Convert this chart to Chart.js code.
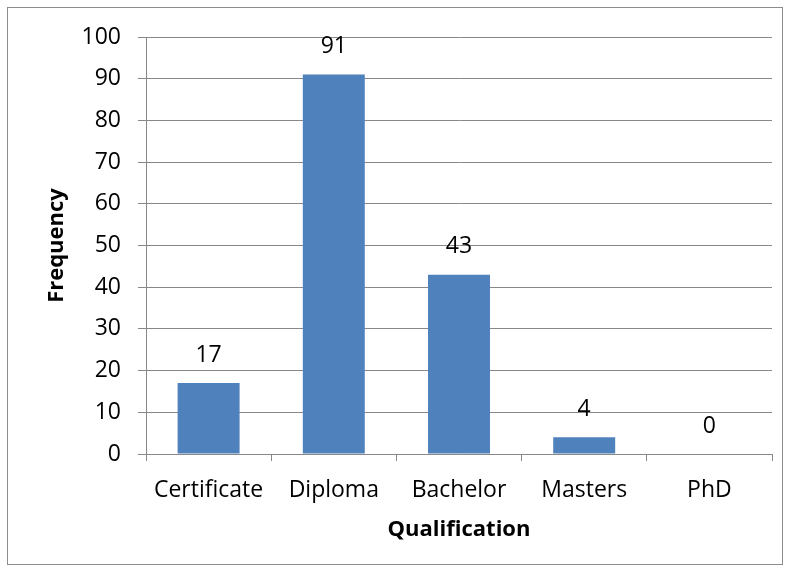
<!DOCTYPE html>
<html><head><meta charset="utf-8">
<script src="https://cdn.jsdelivr.net/npm/chart.js@4/dist/chart.umd.min.js"></script>
<style>
html,body{margin:0;padding:0;background:#fff;}
#wrap{position:relative;width:791px;height:573px;}
#frame{position:absolute;left:7px;top:7px;width:776px;height:558px;border:1px solid #8c8c8c;box-sizing:border-box;pointer-events:none;}
canvas{position:absolute;left:0;top:0;}
</style></head>
<body><div id="wrap"><canvas id="c" width="791" height="573"></canvas><div id="frame"></div></div>
<script>
const categories = ["Certificate", "Diploma", "Bachelor", "Masters", "PhD"];
const frequency = [17, 91, 43, 4, 0];
const yTicks = [0, 10, 20, 30, 40, 50, 60, 70, 80, 90, 100];
const xTitle = "Qualification";
const yTitle = "Frequency";

const FONT = "'Open Sans', Lato, sans-serif";

const labelPlugin = {
  id: 'valueLabels',
  afterDatasetsDraw(chart) {
    const ctx = chart.ctx;
    const meta = chart.getDatasetMeta(0);
    ctx.save();
    ctx.font = "23px " + FONT;
    ctx.fillStyle = "#000";
    ctx.textAlign = "center";
    ctx.textBaseline = "middle";
    meta.data.forEach((bar, i) => {
      ctx.fillText(String(frequency[i]), bar.x, bar.y - 28);
    });
    ctx.restore();
  }
};

new Chart(document.getElementById('c'), {
  type: 'bar',
  data: {
    labels: categories,
    datasets: [{
      data: frequency,
      backgroundColor: '#4F81BD',
      borderWidth: 0,
      categoryPercentage: 1.0,
      barPercentage: 0.495
    }]
  },
  options: {
    responsive: false,
    animation: false,
    devicePixelRatio: 1,
    layout: { padding: { left: 0, top: 37, right: 19, bottom: 0 } },
    plugins: { legend: { display: false }, tooltip: { enabled: false } },
    scales: {
      x: {
        offset: true,
        grid: { offset: true, drawOnChartArea: false, drawTicks: true, tickLength: 7, color: '#888', lineWidth: 1 },
        border: { display: true, color: '#888' },
        ticks: { color: '#000', font: { family: FONT, size: 23 }, padding: 16, maxRotation: 0, autoSkip: false },
        title: { display: true, text: xTitle, color: '#000', font: { family: FONT, size: 22, weight: 'bold' }, padding: { top: 0, bottom: 30 } },
        afterFit(scale) { scale.height = 119; }
      },
      y: {
        min: 0, max: 100,
        afterBuildTicks(scale) { scale.ticks = yTicks.map(v => ({ value: v })); },
        grid: { color: '#888', lineWidth: 1, drawTicks: true, tickLength: 8 },
        border: { display: true, color: '#888' },
        ticks: { color: '#000', font: { family: FONT, size: 23 }, padding: 17 },
        title: { display: true, text: yTitle, color: '#000', font: { family: FONT, size: 22, weight: 'bold' }, padding: { top: 44, bottom: 0 } },
        afterFit(scale) { scale.width = 146; }
      }
    }
  },
  plugins: [labelPlugin]
});
</script></body></html>
